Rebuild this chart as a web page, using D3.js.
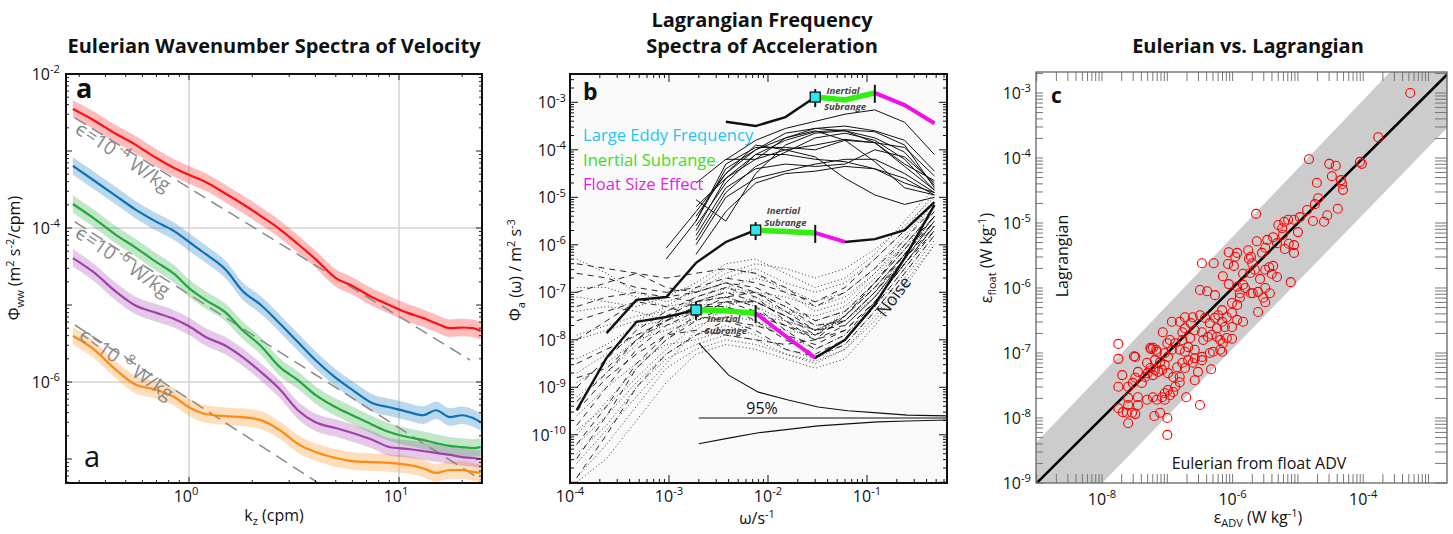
<!DOCTYPE html>
<html><head><meta charset="utf-8">
<script src="https://cdn.jsdelivr.net/npm/d3@7"></script>
<style>body{margin:0;background:#fff}svg{display:block}</style>
</head><body>
<svg id="chart" width="1453" height="534"></svg>
<script>
// ================= DATA =================
// Panel a: Eulerian wavenumber spectra
const kz = [0.28,0.35,0.45,0.55,0.7,0.85,1.0,1.2,1.5,1.8,2.2,2.7,3.3,4,5,6,7.5,9,11,13,15,17.5,20,22.5,24.5];
const phiRed = [3.51e-3,2.53e-3,1.66e-3,1.23e-3,8.1e-4,6.0e-4,4.9e-4,3.95e-4,2.77e-4,2.05e-4,1.43e-4,9.7e-5,6.2e-5,3.95e-5,2.24e-5,1.77e-5,1.25e-5,1.0e-5,7.9e-6,6.8e-6,5.8e-6,5.0e-6,5.1e-6,5.0e-6,4.6e-6];
const phiBlue = [6.4e-4,4.2e-4,2.6e-4,1.77e-4,1.2e-4,9.1e-5,6.6e-5,4.6e-5,2.85e-5,1.52e-5,1.0e-5,5.8e-6,3.3e-6,1.93e-6,1.13e-6,7.9e-7,5.3e-7,4.7e-7,4.1e-7,3.7e-7,4.3e-7,3.5e-7,3.7e-7,3.4e-7,3.0e-7];
const phiGreen = [2.05e-4,1.35e-4,8.1e-5,5.7e-5,3.6e-5,2.53e-5,1.66e-5,1.16e-5,7.9e-6,4.7e-6,2.94e-6,1.57e-6,1.06e-6,6.8e-7,4.7e-7,3.7e-7,2.77e-7,2.24e-7,1.93e-7,1.77e-7,1.61e-7,1.48e-7,1.43e-7,1.39e-7,1.43e-7];
const phiPurple = [4.07e-5,2.69e-5,1.48e-5,1.0e-5,7.9e-6,6.6e-6,5.3e-6,3.84e-6,2.94e-6,2.11e-6,1.35e-6,8.1e-7,4.3e-7,3.0e-7,2.53e-7,2.18e-7,1.77e-7,1.43e-7,1.35e-7,1.27e-7,1.2e-7,1.13e-7,1.06e-7,1.03e-7,1.0e-7];
const phiOrange = [3.95e-6,2.69e-6,1.43e-6,9.4e-7,7.9e-7,6.4e-7,4.7e-7,3.84e-7,3.6e-7,3.5e-7,3.2e-7,2.38e-7,1.57e-7,1.23e-7,1.03e-7,9.4e-8,9.1e-8,8.9e-8,8.4e-8,7.6e-8,6.6e-8,7.2e-8,7.2e-8,6.8e-8,6.6e-8];
const bandFactor = 1.3;
// -5/3 reference lines (end points)
const refEps = ["-4","-6","-8"];
const refK = [[0.286,21.8],[0.286,24.5],[0.286,4.07]];
const refPhi = [[2.69e-3,1.93e-6],[1.2e-4,5.4e-8],[5.5e-6,5.0e-8]];

// Panel b: Lagrangian acceleration spectra (values given as log10)
const omega = [1.17e-4,2.34e-4,4.69e-4,9.38e-4,1.875e-3,3.75e-3,7.5e-3,0.015,0.03,0.06,0.12,0.24,0.48];
const N = null;
const thinLog = [
 [N,N,N,N,N,-4.21,-3.80,-3.55,-3.40,-3.25,-3.16,-3.42,-4.10],
 [N,N,N,-6.07,-5.30,-4.50,-4.00,-3.65,-3.55,-3.60,-3.75,-4.05,-4.75],
 [N,N,N,N,-5.60,-4.70,-4.10,-3.80,-3.62,-3.58,-3.62,-3.90,-4.80],
 [N,N,N,N,-5.90,-4.90,-4.35,-4.05,-3.75,-3.65,-3.80,-4.20,-4.85],
 [N,N,N,N,-5.50,-4.30,-3.95,-3.95,-4.00,-3.80,-3.85,-4.30,-4.65],
 [N,N,N,N,-5.20,-4.60,-4.10,-4.10,-4.20,-4.25,-4.40,-4.60,-4.95],
 [N,N,N,N,-5.80,-4.80,-4.40,-4.30,-4.35,-4.30,-4.00,-4.15,-4.70],
 [N,N,N,N,-6.00,-5.00,-4.60,-4.45,-4.30,-4.20,-4.20,-4.50,-4.90],
 [N,N,N,N,-5.05,-5.50,-4.50,-3.90,-3.65,-3.60,-3.85,-4.35,-4.85],
 [N,N,N,N,-5.70,-4.60,-4.20,-3.75,-3.60,-3.80,-4.25,-4.80,-4.95],
 [N,N,N,N,-6.20,-5.30,-4.70,-4.50,-4.45,-4.35,-4.40,-4.70,-4.90],
 [N,N,N,N,-5.40,-4.50,-3.90,-4.00,-4.15,-4.60,-4.95,-5.15,-5.00],
 [N,N,N,N,-4.70,-4.20,-4.20,-4.00,-3.90,-3.78,-3.85,-3.95,-4.55],
 [N,N,N,-6.30,-5.50,-4.40,-4.00,-3.75,-3.55,-3.50,-3.60,-3.80,-4.45]
];
const dashedLog = [
 [-6.4,-6.5,-6.6,-6.7,-6.6,-6.5,-6.6,-6.9,-7.3,-7.0,-6.5,-5.9,-5.2],
 [-7.0,-6.8,-6.6,-6.9,-7.0,-6.8,-6.9,-7.2,-7.6,-7.4,-6.8,-6.1,-5.4],
 [-8.0,-7.6,-7.2,-7.1,-7.2,-7.0,-7.2,-7.5,-7.9,-7.6,-7.0,-6.2,-5.5],
 [-9.0,-8.4,-7.8,-7.4,-7.1,-6.9,-7.1,-7.6,-8.0,-7.7,-7.1,-6.3,-5.6],
 [-9.8,-9.0,-8.2,-7.7,-7.4,-7.1,-7.3,-7.8,-8.2,-7.9,-7.2,-6.4,-5.6],
 [-10.5,-9.6,-8.6,-8.0,-7.6,-7.3,-7.6,-8.0,-8.3,-8.0,-7.3,-6.5,-5.7],
 [-8.5,-8.2,-7.9,-7.6,-7.3,-7.3,-7.5,-7.7,-7.9,-7.5,-6.9,-6.2,-5.4],
 [-7.6,-7.4,-7.2,-7.3,-7.5,-7.6,-7.7,-7.9,-8.1,-7.8,-7.2,-6.4,-5.7],
 [-9.5,-8.8,-8.3,-7.9,-7.8,-7.9,-8.0,-8.1,-8.0,-7.5,-6.8,-6.0,-5.3],
 [-10.9,-10.0,-9.0,-8.3,-7.9,-7.6,-7.8,-8.2,-8.35,-8.1,-7.4,-6.6,-5.8],
 [-6.6,-6.7,-6.9,-7.0,-6.9,-6.7,-6.8,-7.0,-7.2,-6.9,-6.3,-5.7,-5.1],
 [-8.8,-8.6,-8.0,-7.5,-7.2,-7.1,-7.0,-7.3,-7.7,-7.6,-7.0,-6.3,-5.5],
 [-7.3,-7.1,-7.0,-7.1,-7.0,-6.8,-7.0,-7.4,-7.8,-7.5,-6.9,-6.2,-5.4],
 [-9.3,-8.7,-8.0,-7.6,-7.3,-7.2,-7.4,-7.7,-8.0,-7.8,-7.2,-6.4,-5.6],
 [-10.2,-9.4,-8.5,-7.9,-7.5,-7.2,-7.2,-7.5,-7.8,-7.7,-7.1,-6.3,-5.5]
];
const dottedLog = [
 [-10.9,-10.2,-9.4,-8.6,-8.2,-8.0,-8.1,-8.3,-8.5,-8.2,-7.5,-6.7,-5.9],
 [-10.2,-9.6,-8.9,-8.3,-7.9,-7.7,-7.9,-8.2,-8.4,-8.1,-7.4,-6.6,-5.8],
 [-9.6,-9.0,-8.5,-8.1,-8.0,-7.8,-7.7,-7.8,-7.9,-7.4,-6.8,-6.1,-5.4],
 [-6.3,-6.6,-7.0,-7.2,-7.0,-6.6,-6.4,-6.5,-6.7,-6.5,-6.1,-5.6,-5.0],
 [-7.4,-7.3,-7.4,-7.6,-7.4,-6.9,-6.7,-6.9,-7.2,-7.0,-6.5,-5.8,-5.1],
 [-8.4,-8.1,-7.7,-7.6,-7.3,-6.7,-6.5,-6.8,-7.0,-6.8,-6.3,-5.7,-4.9],
 [-10.6,-9.9,-9.2,-8.5,-7.8,-7.3,-7.1,-7.4,-7.7,-7.6,-7.0,-6.3,-5.5],
 [-9.2,-8.7,-8.1,-7.6,-7.1,-6.9,-7.0,-7.3,-7.6,-7.4,-6.9,-6.2,-5.4],
 [-11.0,-10.5,-9.7,-8.9,-8.3,-8.1,-8.2,-8.4,-8.6,-8.4,-7.7,-6.9,-6.0],
 [-6.9,-6.9,-7.1,-7.3,-7.2,-7.0,-7.0,-7.1,-7.3,-7.1,-6.6,-6.0,-5.3],
 [-8.9,-8.5,-8.0,-7.8,-7.6,-7.4,-7.5,-7.6,-7.8,-7.6,-7.1,-6.4,-5.6],
 [-7.9,-7.7,-7.5,-7.4,-7.2,-7.1,-7.3,-7.6,-7.8,-7.5,-6.8,-6.1,-5.2],
 [-10.0,-9.3,-8.6,-8.0,-7.5,-7.2,-7.2,-7.5,-7.8,-7.6,-7.0,-6.2,-5.5],
 [-8.0,-7.8,-7.6,-7.3,-6.9,-6.5,-6.6,-7.0,-7.4,-7.2,-6.6,-5.9,-5.1],
 [-9.9,-9.4,-8.8,-8.2,-7.7,-7.5,-7.6,-7.9,-8.2,-7.9,-7.3,-6.5,-5.7],
 [-7.1,-7.2,-7.3,-7.1,-6.8,-6.4,-6.3,-6.6,-6.9,-6.7,-6.2,-5.5,-4.8],
 [-10.4,-9.8,-9.0,-8.4,-8.1,-7.9,-8.0,-8.3,-8.45,-8.2,-7.6,-6.8,-6.0],
 [-8.7,-8.3,-7.9,-7.7,-7.5,-7.2,-7.2,-7.4,-7.5,-7.3,-6.7,-6.0,-5.3]
];
const thickLog = [
 [N,N,N,N,N,-3.41,-3.50,-3.31,-2.89,-2.95,-2.80,-3.06,-3.44],
 [N,-7.86,-7.16,-7.10,-6.38,-5.94,-5.69,-5.72,-5.75,-5.94,-5.88,-5.69,-5.10],
 [-9.48,-8.38,-7.62,-7.52,-7.37,-7.39,-7.44,-7.92,-8.38,-8.00,-7.26,-6.28,-5.16]
];
// index of large-eddy frequency, end of inertial subrange, end of float-size effect
const eddyIdx = [8,6,4];
const inertialEndIdx = [10,8,6];
const floatEndIdx = [12,9,8];
const omega95 = [2e-3,4e-3,8e-3,0.016,0.032,0.064,0.128,0.256,0.64];
const upper95 = [8.5e-9,1.8e-9,7.9e-10,5.4e-10,3.85e-10,3.2e-10,2.9e-10,2.6e-10,2.5e-10];
const level95 = [2.26e-10,2.26e-10,2.26e-10,2.26e-10,2.26e-10,2.26e-10,2.26e-10,2.26e-10,2.26e-10];
const lower95 = [6.5e-11,8.5e-11,1.1e-10,1.3e-10,1.54e-10,1.7e-10,1.87e-10,1.95e-10,2.05e-10];
const legendB = ["Large Eddy Frequency","Inertial Subrange","Float Size Effect"];

// Panel c: Eulerian vs Lagrangian dissipation (log10 W/kg)
const logEpsADV = [-3.28,-3.77,-4.05,-4.02,-4.83,-4.52,-4.42,-4.48,-4.34,-4.32,-4.31,-4.71,-4.69,-4.74,-4.86,-4.39,-4.55,-4.60,-4.77,-4.97,-5.06,-5.15,-5.21,-5.30,-5.24,-5.64,-5.00,-5.23,-5.38,-5.47,-5.63,-5.32,-5.50,-5.76,-5.14,-5.06,-5.20,-5.06,-5.55,-5.72,-5.93,-6.06,-5.96,-6.07,-5.98,-5.75,-5.70,-5.50,-5.44,-5.38,-5.40,-5.32,-5.66,-5.84,-6.15,-6.47,-6.29,-5.58,-5.11,-6.06,-5.93,-5.84,-5.81,-5.50,-6.50,-6.39,-6.27,-5.72,-5.61,-5.43,-5.89,-5.93,-5.89,-5.50,-5.61,-6.01,-6.16,-6.22,-6.09,-6.01,-6.27,-6.16,-5.84,-5.93,-6.01,-6.12,-6.24,-6.35,-6.42,-6.50,-6.61,-6.73,-6.81,-6.93,-6.64,-6.73,-6.77,-6.58,-6.47,-6.38,-6.45,-6.32,-6.24,-6.19,-6.09,-6.01,-6.15,-6.19,-6.16,-6.30,-6.35,-6.47,-6.47,-6.58,-6.58,-6.68,-6.65,-6.77,-6.88,-6.96,-7.00,-7.07,-6.93,-7.04,-6.81,-6.73,-6.68,-6.77,-6.85,-6.73,-6.61,-6.53,-6.58,-6.33,-6.81,-6.81,-6.91,-6.88,-6.99,-7.04,-7.08,-7.14,-7.19,-7.22,-7.26,-7.11,-7.16,-7.22,-7.26,-6.99,-7.19,-7.31,-7.30,-7.34,-7.45,-7.49,-7.75,-7.75,-7.69,-7.75,-7.60,-7.53,-7.49,-7.39,-7.60,-7.45,-7.31,-7.22,-7.16,-7.04,-6.99,-7.04,-7.08,-6.96,-6.91,-6.71,-6.50,-7.45,-7.60,-7.75,-7.68,-7.62,-7.54,-7.49,-7.60,-7.20,-7.11,-7.00,-7.00,-7.51,-7.25,-7.17,-5.69,-5.53,-5.73];
const logEpsFloat = [-3.00,-3.68,-4.06,-4.09,-4.02,-4.09,-4.12,-4.28,-4.34,-4.40,-4.49,-4.38,-4.62,-4.71,-4.80,-4.78,-4.88,-4.98,-4.97,-4.91,-4.95,-4.95,-4.98,-5.03,-5.08,-4.86,-5.14,-5.18,-5.22,-5.26,-5.28,-5.31,-5.38,-5.42,-5.32,-5.34,-5.40,-5.46,-5.46,-5.52,-5.46,-5.45,-5.52,-5.63,-5.66,-5.55,-5.62,-5.72,-5.68,-5.66,-5.78,-5.83,-5.72,-5.78,-5.82,-5.62,-5.62,-5.86,-5.91,-5.94,-5.98,-5.95,-6.00,-6.00,-6.03,-6.05,-6.11,-6.08,-6.06,-6.08,-6.08,-6.26,-6.15,-6.22,-6.37,-6.23,-6.34,-6.42,-6.45,-6.38,-6.46,-6.52,-6.52,-6.49,-6.60,-6.60,-6.62,-6.54,-6.46,-6.42,-6.45,-6.45,-6.52,-6.52,-6.54,-6.62,-6.68,-6.65,-6.68,-6.75,-6.80,-6.72,-6.75,-6.80,-6.77,-6.78,-6.85,-6.95,-6.98,-6.98,-7.00,-7.06,-7.11,-7.08,-6.95,-6.91,-6.77,-6.80,-6.85,-6.80,-6.85,-6.68,-6.95,-7.00,-6.95,-6.98,-7.11,-7.15,-7.22,-7.23,-7.15,-7.29,-7.42,-7.25,-7.37,-7.45,-7.37,-7.52,-7.31,-7.18,-7.26,-7.29,-7.26,-7.34,-7.23,-7.14,-6.98,-6.92,-6.92,-7.06,-7.11,-7.15,-7.31,-7.37,-7.29,-7.06,-6.86,-7.09,-7.34,-7.52,-7.52,-7.46,-7.38,-7.46,-7.69,-7.68,-7.72,-7.68,-7.72,-7.72,-7.57,-7.62,-7.68,-7.65,-7.60,-7.68,-7.80,-7.80,-7.80,-7.85,-7.91,-7.92,-7.92,-7.94,-8.08,-7.97,-7.92,-8.00,-8.26,-7.05,-6.94,-6.95,-6.08,-6.15,-5.77];
const bandUpperLog = [[-9.02,-8.39],[-2.70,-1.74]];
const bandLowerLog = [[-9.02,-10.06],[-2.70,-3.52]];

// ================= DRAW =================
const FONT = '"Open Sans","DejaVu Sans",sans-serif';
const svg = d3.select("#chart").style("font-family", FONT);
const P = v => Math.pow(10, v);

function logTicks(dom){
  const a=Math.min(...dom), b=Math.max(...dom);
  const lo=Math.floor(Math.log10(a)), hi=Math.ceil(Math.log10(b));
  const major=[], minor=[];
  for(let e=lo;e<=hi;e++) for(let m=1;m<10;m++){
    const v=m*Math.pow(10,e);
    if(v<a*0.9999||v>b*1.0001) continue;
    (m===1?major:minor).push(v);
  }
  return {major,minor};
}
function drawFrameTicks(g, xs, ys, box, o){
  const xt=logTicks(xs.domain()), yt=logTicks(ys.domain());
  const tg=g.append("g").attr("stroke",o.color).attr("stroke-width",o.tw);
  const seg=(x1,y1,x2,y2)=>tg.append("line").attr("x1",x1).attr("y1",y1).attr("x2",x2).attr("y2",y2);
  [[xt.major,o.maj],[xt.minor,o.min]].forEach(([arr,L])=>arr.forEach(v=>{const x=xs(v);seg(x,box.b,x,box.b-L);seg(x,box.t,x,box.t+L);}));
  [[yt.major,o.majY||o.maj],[yt.minor,o.minY||o.min]].forEach(([arr,L])=>arr.forEach(v=>{const y=ys(v);seg(box.l,y,box.l+L,y);seg(box.r,y,box.r-(o.rightLen||L),y);}));
  g.append("rect").attr("x",box.l).attr("y",box.t).attr("width",box.r-box.l).attr("height",box.b-box.t)
    .attr("fill","none").attr("stroke",o.frame).attr("stroke-width",o.fw);
}
function powLabel(g, x, y, exp, anchor, fs){
  const t=g.append("text").attr("x",x).attr("y",y).attr("text-anchor",anchor).attr("font-size",fs).attr("fill","#111");
  t.append("tspan").text("10");
  t.append("tspan").attr("dy",-fs*0.42).attr("font-size",fs*0.7).text(exp);
  return t;
}
function clip(id, box){
  svg.append("clipPath").attr("id",id).append("rect").attr("x",box.l).attr("y",box.t).attr("width",box.r-box.l).attr("height",box.b-box.t);
}
function title(x,y,txt){svg.append("text").attr("x",x).attr("y",y).attr("text-anchor","middle").attr("font-size",20).attr("font-weight","bold").attr("fill","#111").text(txt);}

// ---------- Panel a ----------
const A={l:66,r:482,t:74,b:483};
const xA=d3.scaleLog().domain([0.2596,24.85]).range([A.l,A.r]);
const yA=d3.scaleLog().domain([4.88e-8,1e-2]).range([A.b,A.t]);
clip("clipA",A);
const gA=svg.append("g");
const gAc=gA.append("g").attr("clip-path","url(#clipA)");
[1,10].forEach(v=>gAc.append("line").attr("x1",xA(v)).attr("x2",xA(v)).attr("y1",A.t).attr("y2",A.b).attr("stroke","#d4d4d4").attr("stroke-width",1.5));
[1e-4,1e-6].forEach(v=>gAc.append("line").attr("y1",yA(v)).attr("y2",yA(v)).attr("x1",A.l).attr("x2",A.r).attr("stroke","#d4d4d4").attr("stroke-width",1.5));
const seriesA=[
  {v:phiOrange,c:"#ff8a10"},
  {v:phiPurple,c:"#a23fae"},
  {v:phiGreen,c:"#22a83a"},
  {v:phiBlue,c:"#0a72ba"},
  {v:phiRed,c:"#ff1010"}
];
const areaA=d3.area().x(d=>xA(d[0])).y0(d=>yA(d[1]/bandFactor)).y1(d=>yA(d[1]*bandFactor)).curve(d3.curveMonotoneX);
const lineA=d3.line().x(d=>xA(d[0])).y(d=>yA(d[1])).curve(d3.curveMonotoneX);
seriesA.forEach(s=>{
  const pts=kz.map((k,i)=>[k,s.v[i]]);
  gAc.append("path").attr("d",areaA(pts)).attr("fill",s.c).attr("fill-opacity",0.28);
});
refK.forEach((kk,i)=>{
  gAc.append("line").attr("x1",xA(kk[0])).attr("y1",yA(refPhi[i][0])).attr("x2",xA(kk[1])).attr("y2",yA(refPhi[i][1]))
   .attr("stroke","#8a8a8a").attr("stroke-width",1.5).attr("stroke-dasharray","13,7");
});
seriesA.forEach(s=>{
  const pts=kz.map((k,i)=>[k,s.v[i]]);
  gAc.append("path").attr("d",lineA(pts)).attr("fill","none").attr("stroke",s.c).attr("stroke-width",2.2);
});
const labelOffsets=[[-1,14],[-1,14],[3,13]];
refK.forEach((kk,i)=>{
  const x0=xA(kk[0]), y0=yA(refPhi[i][0]);
  const ang=Math.atan2(yA(refPhi[i][1])-y0, xA(kk[1])-x0)*180/Math.PI+2;
  const t=gA.append("text").attr("transform",`translate(${x0+labelOffsets[i][0]},${y0+labelOffsets[i][1]}) rotate(${ang})`)
    .attr("font-size",19).attr("fill","#8a8a8a");
  t.append("tspan").text("\u03f5=10");
  t.append("tspan").attr("dy",-8).attr("font-size",14).attr("dx",3).text(refEps[i]);
  t.append("tspan").attr("dy",8).text(" W/kg");
});
drawFrameTicks(gA,xA,yA,A,{color:"#222",tw:1,maj:6,min:3,frame:"#111",fw:2});
[-2,-4,-6].forEach(e=>powLabel(gA,60,yA(P(e))+6,String(e),"end",16));
[0,1].forEach(e=>powLabel(gA,xA(P(e))-3,502,String(e),"middle",16));
gA.append("text").attr("x",76).attr("y",98).attr("font-size",27).attr("font-weight","bold").attr("fill","#111").text("a");
gA.append("text").attr("x",84).attr("y",467).attr("font-size",29).attr("fill","#111").text("a");
title(274,53,"Eulerian Wavenumber Spectra of Velocity");
{const t=gA.append("text").attr("x",274).attr("y",521).attr("text-anchor","middle").attr("font-size",16).attr("fill","#111");
 t.append("tspan").text("k");t.append("tspan").attr("dy",4).attr("font-size",11).text("z");t.append("tspan").attr("dy",-4).text(" (cpm)");}
{const t=gA.append("text").attr("transform","translate(20,258) rotate(-90)").attr("text-anchor","middle").attr("font-size",16).attr("fill","#111");
 t.append("tspan").text("\u03a6");t.append("tspan").attr("dy",4).attr("font-size",11).text("ww");
 t.append("tspan").attr("dy",-4).text(" (m");t.append("tspan").attr("dy",-6).attr("font-size",11).text("2");
 t.append("tspan").attr("dy",6).text(" s");t.append("tspan").attr("dy",-6).attr("font-size",11).text("-2");
 t.append("tspan").attr("dy",6).text("/cpm)");}

// ---------- Panel b ----------
const B={l:570,r:947,t:74,b:483};
const xB=d3.scaleLog().domain([1e-4,0.643]).range([B.l,B.r]);
const yB=d3.scaleLog().domain([P(-11.015),P(-2.404)]).range([B.b,B.t]);
clip("clipB",B);
const gB=svg.append("g");
gB.append("rect").attr("x",B.l).attr("y",B.t).attr("width",B.r-B.l).attr("height",B.b-B.t).attr("fill","#fafafa");
const gBc=gB.append("g").attr("clip-path","url(#clipB)");
const lineB=d3.line().defined(d=>d[1]!=null).x(d=>xB(d[0])).y(d=>yB(P(d[1])));
const ptsB=arr=>arr.map((v,i)=>[omega[i],v]);
dottedLog.forEach(a=>gBc.append("path").attr("d",lineB(ptsB(a))).attr("fill","none").attr("stroke","#222").attr("stroke-width",0.9).attr("stroke-dasharray","1,2.5"));
dashedLog.forEach(a=>gBc.append("path").attr("d",lineB(ptsB(a))).attr("fill","none").attr("stroke","#111").attr("stroke-width",0.9).attr("stroke-dasharray","6,5"));
thinLog.forEach(a=>gBc.append("path").attr("d",lineB(ptsB(a))).attr("fill","none").attr("stroke","#111").attr("stroke-width",1));
const line95=d3.line().x((d,i)=>xB(omega95[i])).y(d=>yB(d));
[upper95,level95,lower95].forEach(a=>gBc.append("path").attr("d",line95(a)).attr("fill","none").attr("stroke","#111").attr("stroke-width",1.1));
gB.append("text").attr("x",xB(0.0087)).attr("y",yB(level95[0])-4).attr("text-anchor","middle").attr("font-size",16).attr("fill","#111").text("95%");
thickLog.forEach((a,j)=>{
  gBc.append("path").attr("d",lineB(ptsB(a))).attr("fill","none").attr("stroke","#111").attr("stroke-width",2.4);
  const green=ptsB(a).slice(eddyIdx[j],inertialEndIdx[j]+1);
  const mag=ptsB(a).slice(inertialEndIdx[j],floatEndIdx[j]+1);
  gBc.append("path").attr("d",lineB(green)).attr("fill","none").attr("stroke","#33ee11").attr("stroke-width",5.5);
  gBc.append("path").attr("d",lineB(mag)).attr("fill","none").attr("stroke","#ee11ee").attr("stroke-width",4);
  const sx=xB(omega[eddyIdx[j]]), sy=yB(P(a[eddyIdx[j]]));
  const ex=xB(omega[inertialEndIdx[j]]), ey=yB(P(a[inertialEndIdx[j]]));
  gB.append("line").attr("x1",sx).attr("x2",sx).attr("y1",sy-8).attr("y2",sy+10).attr("stroke","#111").attr("stroke-width",2);
  gB.append("line").attr("x1",ex).attr("x2",ex).attr("y1",ey-8).attr("y2",ey+10).attr("stroke","#111").attr("stroke-width",2);
  gB.append("rect").attr("x",sx-5).attr("y",sy-5).attr("width",10).attr("height",10).attr("fill","#2ae8ee").attr("stroke","#111").attr("stroke-width",1.3);
  const mx=Math.sqrt(omega[eddyIdx[j]]*omega[inertialEndIdx[j]]);
  const offs=[[-3,13],[-16,-4],[12,24]][j];
  const tg=gB.append("g").attr("font-size",9.5).attr("font-weight","bold").attr("font-style","italic").attr("fill","#444").attr("text-anchor","middle");
  tg.append("text").attr("x",xB(mx)-2).attr("y",sy+offs[0]).text("Inertial");
  tg.append("text").attr("x",xB(mx)).attr("y",sy+offs[1]).text("Subrange");
});
const legColors=["#22c6f0","#3de01e","#e61ee6"];
legendB.forEach((t,i)=>gB.append("text").attr("x",583).attr("y",141+i*24.5).attr("font-size",16.6).attr("fill",legColors[i]).text(t));
gB.append("text").attr("transform","translate(885,318) rotate(-53)").attr("font-size",17).attr("fill","#222").text("Noise");
gB.append("text").attr("x",583).attr("y",100).attr("font-size",23).attr("font-weight","bold").attr("fill","#111").text("b");
drawFrameTicks(gB,xB,yB,B,{color:"#111",tw:1,maj:8,min:4,frame:"#111",fw:2});
[-3,-4,-5,-6,-7,-8,-9,-10].forEach(e=>powLabel(gB,566,yB(P(e))+6,String(e),"end",16));
[-4,-3,-2,-1].forEach(e=>powLabel(gB,xB(P(e)),502,String(e),"middle",16));
title(762,27,"Lagrangian Frequency");
title(762,53,"Spectra of Acceleration");
{const t=gB.append("text").attr("x",757).attr("y",524).attr("text-anchor","middle").attr("font-size",16).attr("fill","#111");
 t.append("tspan").text("\u03c9/s");t.append("tspan").attr("dy",-6).attr("font-size",11).text("-1");}
{const t=gB.append("text").attr("transform","translate(521,270) rotate(-90)").attr("text-anchor","middle").attr("font-size",16).attr("fill","#111");
 t.append("tspan").text("\u03a6");t.append("tspan").attr("dy",4).attr("font-size",11).text("a");
 t.append("tspan").attr("dy",-4).text(" (\u03c9) / m");t.append("tspan").attr("dy",-6).attr("font-size",11).text("2");
 t.append("tspan").attr("dy",6).text(" s");t.append("tspan").attr("dy",-6).attr("font-size",11).text("-3");}

// ---------- Panel c ----------
const C={l:1036,r:1447,t:72,b:483};
const xC=d3.scaleLog().domain([P(-9.011),P(-2.717)]).range([C.l,C.r]);
const yC=d3.scaleLog().domain([P(-9),P(-2.677)]).range([C.b,C.t]);
clip("clipC",C);
const gC=svg.append("g");
const gCc=gC.append("g").attr("clip-path","url(#clipC)");
const band=[bandUpperLog[0],bandUpperLog[1],bandLowerLog[1],bandLowerLog[0]];
gCc.append("path").attr("d",d3.line().x(d=>xC(P(d[0]))).y(d=>yC(P(d[1])))(band)+"Z").attr("fill","#cccccc");
gCc.append("line").attr("x1",xC(P(-9.02))).attr("y1",yC(P(-9.02))).attr("x2",xC(P(-2.7))).attr("y2",yC(P(-2.7))).attr("stroke","#000").attr("stroke-width",2.6);
gCc.selectAll("circle").data(logEpsADV.map((x,i)=>[x,logEpsFloat[i]])).join("circle")
  .attr("cx",d=>xC(P(d[0]))).attr("cy",d=>yC(P(d[1]))).attr("r",4.5)
  .attr("fill","none").attr("stroke","#ff0000").attr("stroke-width",1.1);
drawFrameTicks(gC,xC,yC,C,{color:"#777",tw:1,maj:9,min:9,majY:7,minY:7,rightLen:12,frame:"#666",fw:1.3});
[-3,-4,-5,-6,-7,-8,-9].forEach(e=>powLabel(gC,1031,yC(P(e))+6,String(e),"end",16));
[-8,-6,-4].forEach(e=>powLabel(gC,xC(P(e)),505,String(e),"middle",16));
gC.append("text").attr("x",1051).attr("y",103).attr("font-size",21).attr("font-weight","bold").attr("fill","#111").text("c");
gC.append("text").attr("transform","translate(1068,256) rotate(-90)").attr("text-anchor","middle").attr("font-size",16).attr("fill","#111").text("Lagrangian");
gC.append("text").attr("x",1259).attr("y",469).attr("text-anchor","middle").attr("font-size",16).attr("fill","#111").text("Eulerian from float ADV");
title(1248,53,"Eulerian vs. Lagrangian");
{const t=gC.append("text").attr("x",1258).attr("y",523).attr("text-anchor","middle").attr("font-size",16).attr("fill","#111");
 t.append("tspan").text("\u03b5");t.append("tspan").attr("dy",4).attr("font-size",11).text("ADV");
 t.append("tspan").attr("dy",-4).text(" (W kg");t.append("tspan").attr("dy",-6).attr("font-size",11).text("-1");
 t.append("tspan").attr("dy",6).text(")");}
{const t=gC.append("text").attr("transform","translate(992,258) rotate(-90)").attr("text-anchor","middle").attr("font-size",16).attr("fill","#111");
 t.append("tspan").text("\u03b5");t.append("tspan").attr("dy",4).attr("font-size",11).text("float");
 t.append("tspan").attr("dy",-4).text(" (W kg");t.append("tspan").attr("dy",-6).attr("font-size",11).text("-1");
 t.append("tspan").attr("dy",6).text(")");}
</script>
</body></html>
